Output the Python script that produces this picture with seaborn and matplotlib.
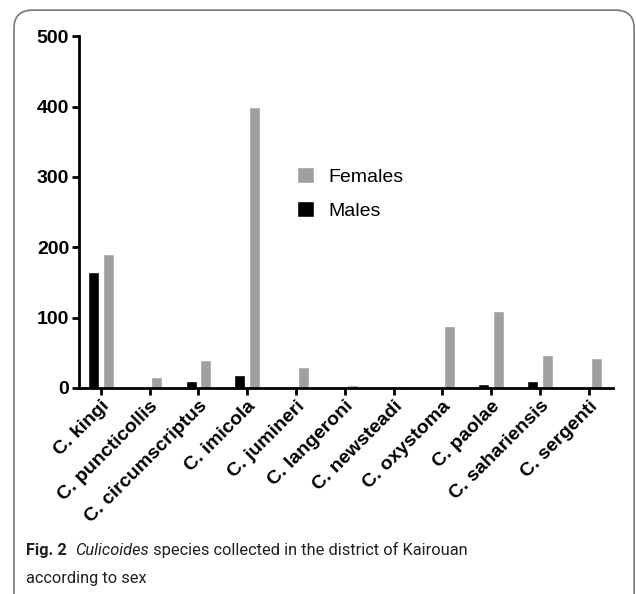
import matplotlib
matplotlib.use("Agg")
from matplotlib import pyplot as plt
from matplotlib.patches import FancyBboxPatch, Patch
import pandas as pd
import seaborn as sns

species = ["C. kingi", "C. puncticollis", "C. circumscriptus", "C. imicola", "C. jumineri",
           "C. langeroni", "C. newsteadi", "C. oxystoma", "C. paolae", "C. sahariensis",
           "C. sergenti"]
males = [165, 0, 10, 18, 0, 0, 0, 0, 5, 10, 0]
females = [190, 15, 39, 400, 29, 4, 3, 88, 110, 47, 42]

df = pd.DataFrame({
    "species": species * 2,
    "sex": ["Males"] * len(species) + ["Females"] * len(species),
    "count": males + females,
})

sns.set_style("ticks")
plt.rcParams["font.family"] = ["Liberation Sans", "DejaVu Sans"]
plt.rcParams["text.color"] = "black"
plt.rcParams["xtick.color"] = "black"
plt.rcParams["ytick.color"] = "black"
plt.rcParams["axes.edgecolor"] = "black"

fig = plt.figure(figsize=(6.36, 5.94), dpi=100)
ax = fig.add_axes([0.124, 0.347, 0.84, 0.592])

palette = {"Males": "#000000", "Females": "#a0a0a0"}
sns.barplot(data=df, x="species", y="count", hue="sex", hue_order=["Males", "Females"],
            palette=palette, width=0.6, gap=0.25, saturation=1, ax=ax, legend=False)

ax.set_ylim(0, 500)
ax.set_yticks([0, 100, 200, 300, 400, 500])
ax.set_xlim(-0.45, 10.5)
ax.set_xlabel("")
ax.set_ylabel("")
sns.despine(ax=ax)
for s in ["left", "bottom"]:
    ax.spines[s].set_linewidth(2)
ax.tick_params(axis="both", width=2, length=5, labelsize=14, pad=2)
for lab in ax.get_yticklabels():
    lab.set_fontweight("bold")
ax.set_xticks(range(len(species)))
ax.set_xticklabels(species, rotation=45, ha="right", rotation_mode="anchor",
                   fontweight="bold", fontsize=14)

handles = [Patch(facecolor="#a0a0a0", label="Females"), Patch(facecolor="#000000", label="Males")]
ax.legend(handles=handles, loc="center left", bbox_to_anchor=(0.376, 0.553), frameon=False,
          fontsize=14, handlelength=0.85, handleheight=0.85, handletextpad=0.75, labelspacing=0.8)

# rounded frame around figure + caption
box = FancyBboxPatch((0.022, -0.05), 0.975, 1.033, boxstyle="round,pad=0,rounding_size=0.03",
                     transform=fig.transFigure, fill=False, edgecolor="#777777", linewidth=1.2)
fig.patches.append(box)

cap_font = ["Roboto", "DejaVu Sans"]
fig.canvas.draw()
renderer = fig.canvas.get_renderer()
x = 26 / 636
y1 = 1 - 555 / 594
parts = [("Fig. 2", "bold", "normal"), ("  ", "normal", "normal"),
         ("Culicoides", "normal", "italic"),
         (" species collected in the district of Kairouan", "normal", "normal")]
for txt, w, st in parts:
    t = fig.text(x, y1, txt, fontsize=11.8, fontweight=w, fontstyle=st, family=cap_font,
                 va="baseline", ha="left", color="#231f20")
    bb = t.get_window_extent(renderer)
    x += bb.width / fig.bbox.width
fig.text(26 / 636, 1 - 583 / 594, "according to sex", fontsize=11.8, family=cap_font,
         va="baseline", ha="left", color="#231f20")

fig.savefig("out.png", dpi=100)
